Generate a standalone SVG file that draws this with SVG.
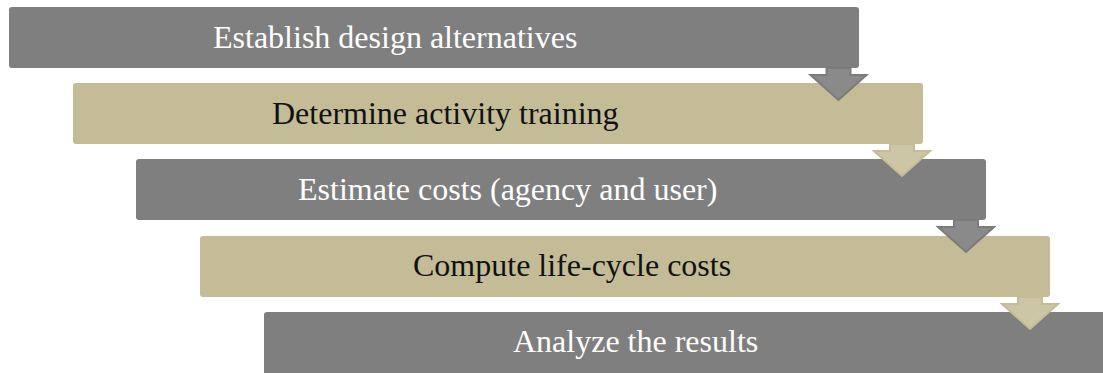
<svg xmlns="http://www.w3.org/2000/svg" width="1103" height="373" viewBox="0 0 1103 373">
  <style>
    .box { stroke: none; }
    .grey { fill: #7f7f7f; }
    .tan { fill: #c4bc96; }
    .label { font-family: "Liberation Serif", "Times New Roman", serif; font-size: 32px; }
    .light { fill: #ffffff; }
    .dark { fill: #111111; }
    .arrow-grey { fill: #8a8a8a; stroke: #7b7b7b; stroke-width: 2; stroke-linejoin: miter; }
    .arrow-tan { fill: #cdc6a4; stroke: #c4bc96; stroke-width: 2; stroke-linejoin: miter; }
  </style>
  <defs>
    <!-- down arrow, centred on x=0, starting at the bottom edge of a step -->
    <path id="down" d="M -12 0 L 12 0 L 12 7 L 28 7 L 0 32 L -28 7 L -12 7 Z"/>
  </defs>
  <rect width="1103" height="373" fill="#ffffff"/>

  <g id="step1">
    <rect class="box grey" x="9" y="7" width="850" height="61" rx="3"/>
    <text class="label light" x="213" y="48">Establish design alternatives</text>
  </g>
  <g id="step2">
    <rect class="box tan" x="73" y="83" width="850" height="61" rx="3"/>
    <text class="label dark" x="272" y="124">Determine activity training</text>
  </g>
  <g id="step3">
    <rect class="box grey" x="136" y="159" width="850" height="61" rx="3"/>
    <text class="label light" x="298" y="200">Estimate costs (agency and user)</text>
  </g>
  <g id="step4">
    <rect class="box tan" x="200" y="236" width="850" height="61" rx="3"/>
    <text class="label dark" x="413" y="276">Compute life-cycle costs</text>
  </g>
  <g id="step5">
    <rect class="box grey" x="264" y="312" width="860" height="65" rx="3"/>
    <text class="label light" x="513" y="352">Analyze the results</text>
  </g>

  <g id="connectors">
    <use href="#down" class="arrow-grey" transform="translate(838.5,68)"/>
    <use href="#down" class="arrow-tan" transform="translate(902,144)"/>
    <use href="#down" class="arrow-grey" transform="translate(966,220)"/>
    <use href="#down" class="arrow-tan" transform="translate(1030,297)"/>
  </g>
</svg>
